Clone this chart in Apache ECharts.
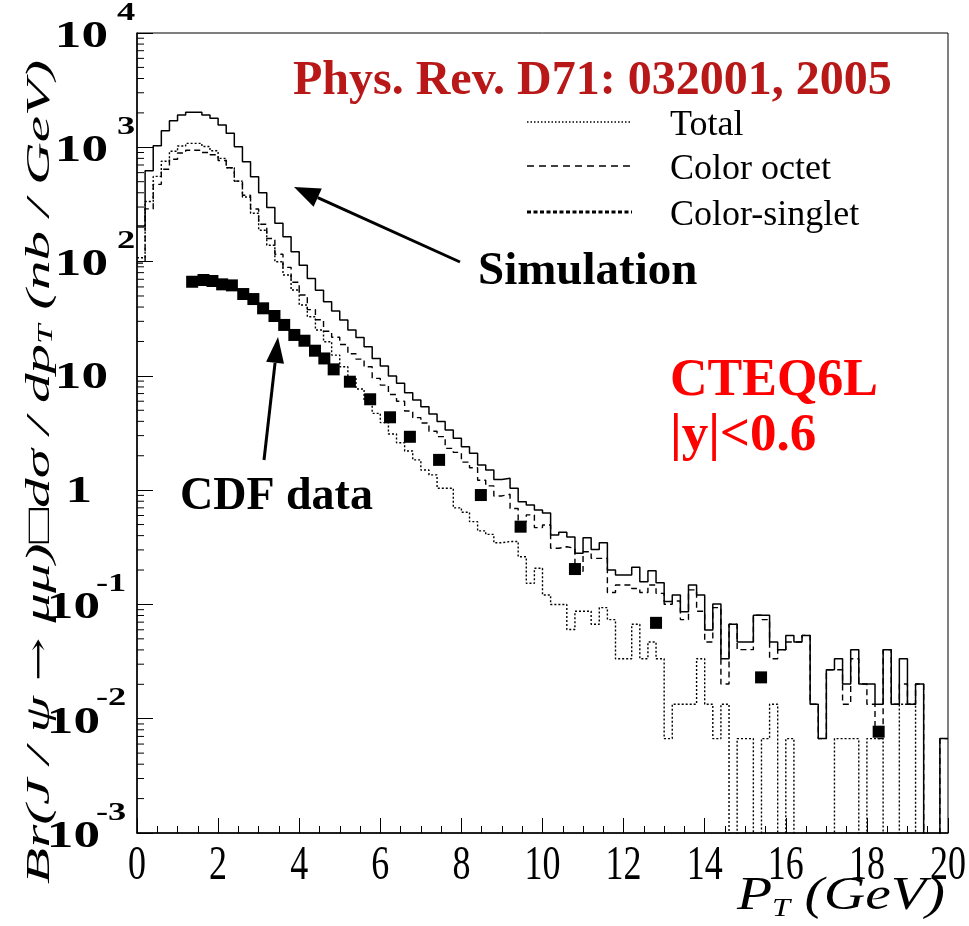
<!DOCTYPE html>
<html>
<head>
<meta charset="utf-8">
<script src="https://cdn.jsdelivr.net/npm/echarts@6/dist/echarts.min.js"></script>
<style>
  html, body { margin: 0; padding: 0; background: #fff; }
  #chart { width: 969px; height: 926px; }
</style>
</head>
<body>
<div id="chart"></div>
<script>
// J/psi differential cross section, 0.2 GeV bins from 0 to 20 GeV
const BIN_WIDTH = 0.2;

// Total (octet + singlet), nb/GeV
const totalXsec = [
  205, 624, 1030, 1396, 1708, 1916, 2023, 2023, 1916, 1792,
  1566, 1325, 1012, 748, 553, 400, 298, 216, 165, 122,
  93, 71, 56, 44.5, 37, 30.8, 25.2, 21.7, 18.0, 14.2,
  12.2, 9.96, 8.6, 7.13, 6.15, 5.37, 4.64, 3.98, 3.36, 2.84,
  2.40, 2.10, 1.66, 1.50, 1.24, 1.27, 1.04, 0.79, 0.74, 0.67,
  0.63, 0.405, 0.428, 0.39, 0.28, 0.384, 0.303, 0.347, 0.20, 0.181,
  0.181, 0.211, 0.158, 0.197, 0.155, 0.106, 0.121, 0.0864, 0.148, 0.121,
  0.0597, 0.101, 0.0335, 0.067, 0.0469, 0.0469, 0.0804, 0.0804, 0.0469, 0.0402,
  0.0536, 0.0469, 0.0536, 0.0134, 0.0067, 0.0268, 0.0335, 0.0201, 0.0402, 0.0201,
  0.0201, 0.0134, 0.0402, 0.0134, 0.0335, 0.0134, 0.0201, 0, 0, 0.0067
];

// Color-octet contribution
const octetXsec = [
  97, 289, 474, 642, 786, 891, 941, 941, 901, 860,
  767, 663, 506, 381, 288, 212, 159, 116, 89, 66,
  51, 38, 31, 24.6, 21.8, 18.8, 15.6, 14.0, 12.0, 9.5,
  8.3, 6.86, 6.0, 4.93, 4.31, 3.87, 3.28, 2.94, 2.32, 2.14,
  1.76, 1.57, 1.22, 1.09, 0.89, 0.92, 0.69, 0.53, 0.607, 0.47,
  0.496, 0.31, 0.32, 0.31, 0.195, 0.289, 0.253, 0.253, 0.127, 0.148,
  0.148, 0.138, 0.127, 0.148, 0.125, 0.1005, 0.1072, 0.0737, 0.134, 0.0871,
  0.0469, 0.0938, 0.0201, 0.067, 0.0402, 0.0402, 0.0804, 0.0737, 0.0335, 0.0402,
  0.0469, 0.0469, 0.0536, 0.0134, 0.0067, 0.0268, 0.0268, 0.0134, 0.0335, 0.0201,
  0.0134, 0.0067, 0.0402, 0.0134, 0.0201, 0.0134, 0.0201, 0, 0, 0.0067
];

// Color-singlet contribution
const singletXsec = [
  108, 335, 556, 754, 922, 1025, 1082, 1082, 1015, 932,
  799, 662, 506, 367, 265, 188, 139, 99.7, 76.3, 56.4,
  41.7, 32.9, 25.2, 19.9, 15.2, 12.0, 9.58, 7.67, 6.0, 4.7,
  3.9, 3.1, 2.6, 2.2, 1.84, 1.50, 1.36, 1.04, 1.04, 0.70,
  0.64, 0.53, 0.44, 0.41, 0.347, 0.355, 0.355, 0.261, 0.153, 0.207,
  0.121, 0.10, 0.10, 0.0603, 0.0871, 0.0871, 0.067, 0.0938, 0.0737, 0.0335,
  0.0335, 0.067, 0.0335, 0.0469, 0.0335, 0.0067, 0.0134, 0.0134, 0.0134, 0.0335,
  0.0134, 0.0067, 0.0134, 0, 0.0067, 0.0067, 0, 0.0067, 0.0134, 0,
  0.0067, 0, 0, 0, 0, 0, 0.0067, 0.0067, 0.0067, 0,
  0.0067, 0.0067, 0, 0, 0.0134, 0.0134, 0, 0, 0, 0
];

// CDF Run II measurement
const cdfPt = [
  1.36, 1.64, 1.86, 2.10, 2.34, 2.62, 2.87, 3.11, 3.39, 3.63,
  3.88, 4.13, 4.39, 4.62, 4.85, 5.25, 5.75, 6.24, 6.73, 7.45,
  8.48, 9.46, 10.80, 12.80, 15.39, 18.29
];
const cdfXsec = [
  66.6, 69.0, 67.6, 63.2, 61.9, 52.0, 47.0, 39.0, 33.4, 27.9,
  22.8, 20.3, 16.6, 14.2, 11.4, 8.89, 6.24, 4.34, 2.93, 1.84,
  0.906, 0.479, 0.204, 0.069, 0.023, 0.0077
];

const xTickLabels = ['0', '2', '4', '6', '8', '10', '12', '14', '16', '18', '20'];
const yDecades = [-3, -2, -1, 0, 1, 2, 3, 4];
const minorLogSteps = [2, 3, 4, 5, 6, 7, 8, 9];

const SERIF = '"Liberation Serif", "Times New Roman", serif';
const EMPTY_BIN = 1e-6; // empty bins sit below the axis floor and get clipped

function histogram(values) {
  const pts = values.map((v, i) => [+(i * BIN_WIDTH).toFixed(2), v > 0 ? v : EMPTY_BIN]);
  pts.push([+(values.length * BIN_WIDTH).toFixed(2), pts[pts.length - 1][1]]);
  return pts;
}

const minorTickPoints = [];
for (let d = yDecades[0]; d < yDecades[yDecades.length - 1]; d++) {
  minorLogSteps.forEach(m => minorTickPoints.push([0, m * Math.pow(10, d)]));
}

const chart = echarts.init(document.getElementById('chart'), null, { renderer: 'canvas' });

const histLine = (name, data, dash, width) => ({
  name, type: 'line', step: 'end', data, showSymbol: false, symbol: 'none',
  clip: true, silent: true, z: 3,
  lineStyle: { color: '#000', width, type: dash }
});

chart.setOption({
  animation: false,
  backgroundColor: '#fff',
  grid: { left: 137, right: 21, top: 33, bottom: 93, show: true, borderColor: '#000', borderWidth: 1 },
  xAxis: {
    type: 'value', min: 0, max: 20, interval: 2,
    axisLine: { lineStyle: { color: '#000', width: 1.5 } },
    axisTick: { inside: true, length: 15, lineStyle: { color: '#000', width: 1 } },
    minorTick: { show: true, splitNumber: 4, length: 7, lineStyle: { color: '#000', width: 1 } },
    axisLabel: { show: false },
    splitLine: { show: false }
  },
  yAxis: {
    type: 'log', logBase: 10, min: 1e-3, max: 1e4,
    axisLine: { show: true, lineStyle: { color: '#000', width: 1.5 } },
    axisTick: { show: true, inside: true, length: 16, lineStyle: { color: '#000', width: 1 } },
    axisLabel: { show: false },
    splitLine: { show: false }
  },
  series: [
    histLine('Total', histogram(totalXsec), 'solid', 1.5),
    histLine('Color octet', histogram(octetXsec), [6, 4], 1.4),
    histLine('Color-singlet', histogram(singletXsec), [2, 2], 1.4),
    {
      name: 'CDF data', type: 'scatter', data: cdfPt.map((p, i) => [p, cdfXsec[i]]),
      symbol: 'rect', symbolSize: 12, itemStyle: { color: '#000', opacity: 1 }, silent: true, z: 4
    },
    {
      name: 'log minor ticks', type: 'scatter', data: minorTickPoints,
      symbol: 'rect', symbolSize: [7, 1], symbolOffset: [3.5, 0],
      itemStyle: { color: '#000', opacity: 1 }, silent: true, clip: false, z: 5
    }
  ]
});

// ---- text, legend and arrows ----
const gfx = [];
const toPx = (x, y) => chart.convertToPixel({ gridIndex: 0 }, [x, y]);

// x tick labels (tall, narrow digits)
xTickLabels.forEach(t => {
  const [px, py] = toPx(+t, 1e-3);
  gfx.push({
    type: 'text', x: px, y: py + 9, scaleY: 1.35, silent: true,
    style: { text: t, font: '36px ' + SERIF, fill: '#000', align: 'center', verticalAlign: 'top' }
  });
});

// y tick labels: powers of ten
yDecades.forEach(k => {
  const py = toPx(0, Math.pow(10, k))[1];
  const baseFont = 'bold 38px ' + SERIF;
  if (k === 0 || k === 1) {
    gfx.push({
      type: 'text', x: k === 0 ? 92 : 108, y: py + 2, scaleX: 1.4, silent: true,
      style: { text: k === 0 ? '1' : '10', font: baseFont, fill: '#000', align: 'right', verticalAlign: 'middle' }
    });
  } else {
    const neg = k < 0;
    gfx.push({
      type: 'text', x: neg ? 100 : 108, y: py + 4, scaleX: 1.4, silent: true,
      style: { text: '10', font: baseFont, fill: '#000', align: 'right', verticalAlign: 'middle' }
    });
    gfx.push({
      type: 'text', x: neg ? 96 : 117, y: py - 20, scaleX: 1.4, silent: true,
      style: { text: String(k), font: 'bold 26px ' + SERIF, fill: '#000', align: 'left', verticalAlign: 'middle' }
    });
  }
});

// axis titles
gfx.push({
  type: 'text', x: 40, y: 472, rotation: Math.PI / 2, scaleX: 1.74, silent: true,
  style: {
    text: '{n|Br(J / ψ }{a|→}{n| μμ)□dσ / dp}{s|T}{n| (nb / GeV)}',
    align: 'center', verticalAlign: 'middle', fill: '#000',
    rich: {
      n: { font: 'italic 34px ' + SERIF, fill: '#000' },
      a: { font: '30px "DejaVu Serif", serif', fill: '#000' },
      s: { font: 'italic 20px ' + SERIF, fill: '#000', verticalAlign: 'bottom', padding: [14, 0, 0, 0] }
    }
  }
});
gfx.push({
  type: 'text', x: 945, y: 897, scaleX: 1.25, silent: true,
  style: {
    text: '{n|P}{s|T}{n| (GeV)}',
    align: 'right', verticalAlign: 'middle', fill: '#000',
    rich: {
      n: { font: 'italic 46px ' + SERIF, fill: '#000' },
      s: { font: 'italic 26px ' + SERIF, fill: '#000', verticalAlign: 'bottom', padding: [24, 0, 0, 0] }
    }
  }
});

// annotations
const label = (text, x, y, font, color) => ({
  type: 'text', x, y, silent: true,
  style: { text, font: font + ' ' + SERIF, fill: color, align: 'left', verticalAlign: 'middle' }
});
gfx.push(label('Phys. Rev. D71: 032001, 2005', 293, 82, 'bold 48px', '#b81818'));
gfx.push(label('Simulation', 478, 272, 'bold 47px', '#000'));
gfx.push(label('CDF data', 180, 497, 'bold 46px', '#000'));
gfx.push(label('CTEQ6L', 670, 382, 'bold 52px', '#ff0000'));
gfx.push(label('|y|<0.6', 670, 436, 'bold 53px', '#ff0000'));

// legend
const legendRows = [
  { text: 'Total', y: 122, dash: [1.5, 2], width: 1.4 },
  { text: 'Color octet', y: 166, dash: [7, 5], width: 1.5 },
  { text: 'Color-singlet', y: 212, dash: [4, 2.5], width: 3 }
];
legendRows.forEach(r => {
  gfx.push({
    type: 'line', silent: true, shape: { x1: 527, y1: r.y, x2: 632, y2: r.y },
    style: { stroke: '#000', lineWidth: r.width, lineDash: r.dash }
  });
  gfx.push(label(r.text, 670, r.y + 4, '36px', '#000'));
});

// arrows
function arrow(tail, tip, headLen, headHalf) {
  const dx = tip[0] - tail[0], dy = tip[1] - tail[1];
  const len = Math.hypot(dx, dy), ux = dx / len, uy = dy / len;
  const bx = tip[0] - ux * headLen, by = tip[1] - uy * headLen;
  gfx.push({
    type: 'line', silent: true, shape: { x1: tail[0], y1: tail[1], x2: bx, y2: by },
    style: { stroke: '#000', lineWidth: 3 }
  });
  gfx.push({
    type: 'polygon', silent: true,
    shape: { points: [tip, [bx - uy * headHalf, by + ux * headHalf], [bx + uy * headHalf, by - ux * headHalf]] },
    style: { fill: '#000' }
  });
}
arrow([460, 262], [294, 187], 26, 10);
arrow([264, 460], [278, 337], 26, 9);

chart.setOption({ graphic: gfx });
</script>
</body>
</html>
